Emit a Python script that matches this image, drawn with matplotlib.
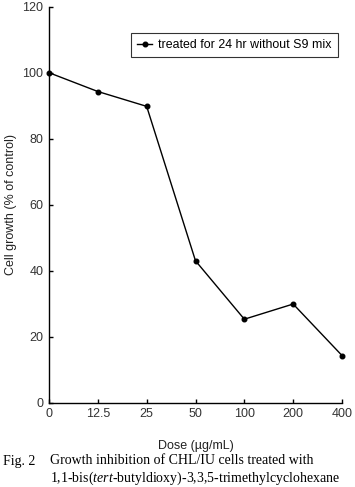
import matplotlib
matplotlib.use("Agg")
import matplotlib.pyplot as plt
import numpy as np

# dose levels are plotted as equally spaced categories
doses = ["0", "12.5", "25", "50", "100", "200", "400"]
growth = [100, 94.3, 89.8, 43.0, 25.3, 29.9, 14.3]
y_ticks = [0, 20, 40, 60, 80, 100, 120]

plt.rcParams["font.family"] = ["Liberation Sans", "DejaVu Sans"]
plt.rcParams["mathtext.fontset"] = "custom"
plt.rcParams["mathtext.rm"] = "Liberation Serif"
plt.rcParams["mathtext.it"] = "Liberation Serif:italic"

fig = plt.figure(figsize=(3.55, 4.87), dpi=100)
ax = fig.add_axes([49 / 355, 1 - 402.7 / 487, (342 - 49) / 355, (402.7 - 6.7) / 487])

x = np.arange(len(doses))
ax.plot(x, growth, color="black", lw=1.0, marker="o", ms=3.3,
        label="treated for 24 hr without S9 mix", clip_on=False, zorder=3)

ax.set_xlim(0, len(doses) - 1)
ax.set_ylim(0, 120)
ax.set_xticks(x)
ax.set_xticklabels(doses)
ax.set_yticks(y_ticks)
ax.spines["top"].set_visible(False)
ax.spines["right"].set_visible(False)
for s in ("left", "bottom"):
    ax.spines[s].set_linewidth(1.0)
ax.tick_params(direction="in", length=3, width=1.0, labelsize=9,
               labelcolor="#333333", pad=4)

ax.set_xlabel("Dose (\u00b5g/mL)", fontsize=9, color="#222222", labelpad=14)
ax.set_ylabel("Cell growth (% of control)", fontsize=9, color="#222222", labelpad=4)

leg = ax.legend(loc="upper right", bbox_to_anchor=(1.008, 0.95), fontsize=8.9,
                frameon=True, fancybox=False, edgecolor="black",
                handlelength=1.2, borderpad=0.5, handletextpad=0.5)
leg.get_frame().set_linewidth(0.8)

cap_kw = dict(fontsize=10, family=["Liberation Serif", "DejaVu Serif"], color="black")
fig.text(3 / 355, 1 - 461 / 487, "Fig. 2", va="center", ha="left", **cap_kw)
fig.text(50 / 355, 1 - 461 / 487, "Growth inhibition of CHL/IU cells treated with",
         va="center", ha="left", **cap_kw)
fig.text(50 / 355, 1 - 478 / 487,
         "1,1-bis($\\it{tert}$-butyldioxy)-3,3,5-trimethylcyclohexane",
         va="center", ha="left", **cap_kw)

fig.savefig("out.png", dpi=100)
